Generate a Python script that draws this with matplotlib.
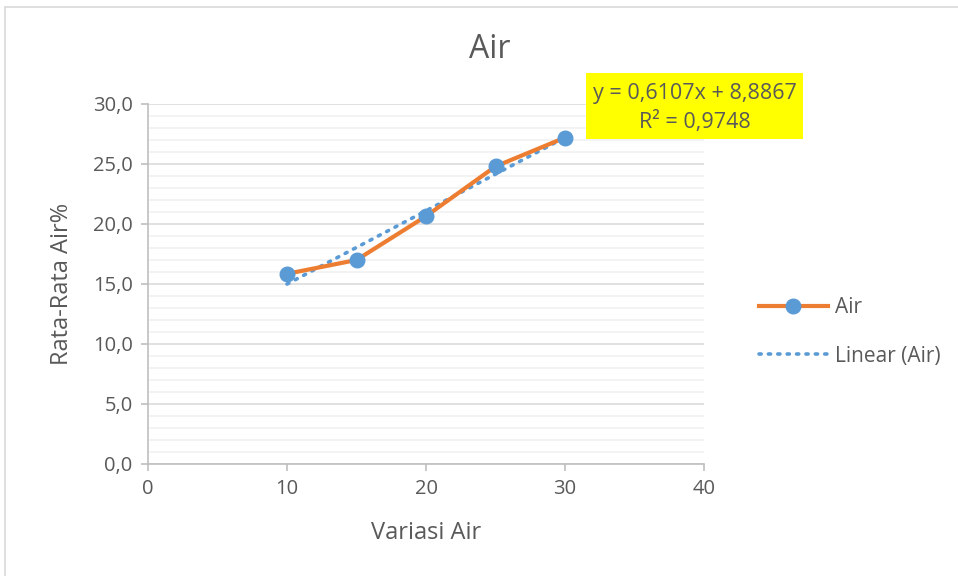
import matplotlib
matplotlib.use("Agg")
import matplotlib.pyplot as plt
from matplotlib.ticker import FuncFormatter, MultipleLocator
from matplotlib.patches import Rectangle
import numpy as np

x_vals = [10, 15, 20, 25, 30]
y_vals = [15.85, 17.0, 20.65, 24.8, 27.2]
slope = 0.6107
intercept = 8.8867
r2_text = "R² = 0,9748"
eq_text = "y = 0,6107x + 8,8867"

plt.rcParams['font.family'] = ['Open Sans', 'DejaVu Sans']
txt = '#595959'

fig = plt.figure(figsize=(9.58, 5.76), dpi=100)
fig.patch.set_facecolor('white')
fig.patches.append(Rectangle((5/958, -0.1), 1.2, 1 - 7/576 + 0.1, transform=fig.transFigure,
                             fill=False, edgecolor='#d9d9d9', linewidth=1.2))

ax = fig.add_axes([148/958, 112/576, 556/958, 360/576])
ax.set_xlim(0, 40)
ax.set_ylim(0, 30)
ax.xaxis.set_major_locator(MultipleLocator(10))
ax.yaxis.set_major_locator(MultipleLocator(5))
ax.yaxis.set_minor_locator(MultipleLocator(1))
ax.grid(which='major', axis='y', color='#d9d9d9', linewidth=1.1)
ax.grid(which='minor', axis='y', color='#f0f0f0', linewidth=1.1)
ax.set_axisbelow(True)
for s in ['top', 'right']:
    ax.spines[s].set_visible(False)
for s in ['left', 'bottom']:
    ax.spines[s].set_color('#bfbfbf')
    ax.spines[s].set_linewidth(1.2)
ax.tick_params(axis='both', which='major', color='#bfbfbf', length=5, width=1.2,
               labelcolor=txt, labelsize=14.5, pad=6)
ax.tick_params(axis='y', which='minor', length=0)
ax.yaxis.set_major_formatter(FuncFormatter(lambda v, p: f"{v:.1f}".replace('.', ',')))
ax.xaxis.set_major_formatter(FuncFormatter(lambda v, p: f"{int(v)}"))

xt = np.array([x_vals[0], x_vals[-1]])
ax.plot(xt, slope * xt + intercept, linestyle=(0, (0.6, 2.0)), dash_capstyle='round',
        color='#5b9bd5', linewidth=2.6, label='Linear (Air)', zorder=3)
ax.plot(x_vals, y_vals, color='#ed7d31', linewidth=3, marker='o', markersize=10.5,
        markerfacecolor='#5b9bd5', markeredgecolor='#5b9bd5', label='Air', zorder=4)

ax.set_xlabel('Variasi Air', fontsize=17, color=txt, va='center')
ax.set_ylabel('Rata-Rata Air%', fontsize=17, color=txt, va='center')
ax.xaxis.set_label_coords(0.5, (464 - 533) / 360)
ax.yaxis.set_label_coords((62 - 148) / 556, 0.5)

fig.text(490/958, 1 - 50/576, 'Air', fontsize=23, color=txt, ha='center', va='center')

fig.patches.append(Rectangle((586/958, 1 - 139/576), 217/958, 66/576, transform=fig.transFigure,
                             facecolor='#ffff00', edgecolor='none', zorder=5))
fig.text(695/958, 1 - 94/576, eq_text, fontsize=15.5, color=txt, ha='center', va='center', zorder=6)
fig.text(695/958, 1 - 122/576, r2_text, fontsize=15.5, color=txt, ha='center', va='center', zorder=6)

h, l = ax.get_legend_handles_labels()
leg = fig.legend([h[1], h[0]], [l[1], l[0]], loc='center left', bbox_to_anchor=(740/958, 1 - 332/576),
                 frameon=False, fontsize=15, labelcolor=txt, handlelength=3.3, labelspacing=1.3,
                 handletextpad=0.35)

fig.savefig('out.png', dpi=100)
